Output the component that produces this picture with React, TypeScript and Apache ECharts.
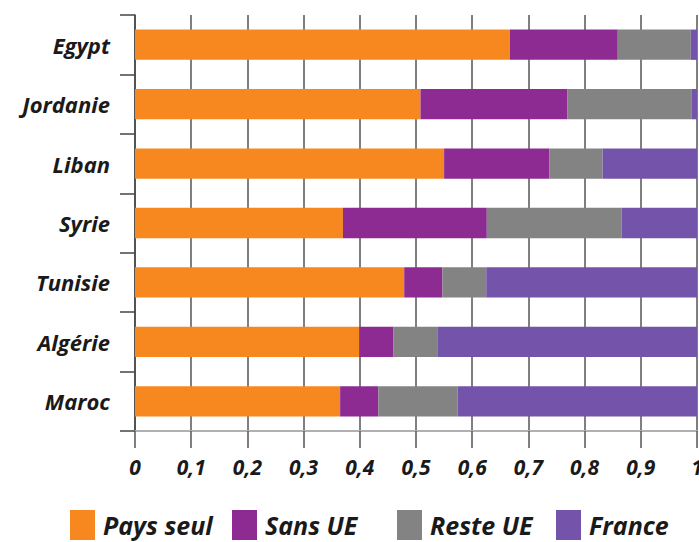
import React, { useEffect, useRef } from "react";
import * as echarts from "echarts";

const categories = ["Egypt", "Jordanie", "Liban", "Syrie", "Tunisie", "Algérie", "Maroc"];
const seriesNames = ["Pays seul", "Sans UE", "Reste UE", "France"];
const paysSeul = [0.667, 0.508, 0.55, 0.37, 0.479, 0.399, 0.365];
const sansUE = [0.192, 0.261, 0.187, 0.256, 0.068, 0.061, 0.068];
const resteUE = [0.13, 0.221, 0.095, 0.24, 0.078, 0.079, 0.141];
const france = [0.011, 0.01, 0.168, 0.134, 0.375, 0.461, 0.426];
const colors = ["#F7881F", "#8D2B93", "#838383", "#7454AA"];
const legendLefts = [70, 232, 397, 556];

export default function App() {
  const ref = useRef<HTMLDivElement>(null);
  useEffect(() => {
    document.body.style.margin = "0";
    const chart = echarts.init(ref.current!, undefined, { renderer: "svg" });
    const values = [paysSeul, sansUE, resteUE, france];
    const legendText = {
      fontFamily: "Open Sans",
      fontStyle: "italic",
      fontWeight: "bold",
      fontSize: 25,
      lineHeight: 25,
      color: "#1a1a1a",
      padding: [0, 0, 0, 3],
    };
    chart.setOption({
      animation: false,
      backgroundColor: "#ffffff",
      grid: { left: 135, right: 2, top: 15, bottom: 111, containLabel: false, outerBoundsMode: "none" },
      legend: seriesNames.map((n, i) => ({
        data: [n],
        left: legendLefts[i],
        top: 510,
        itemWidth: 25,
        itemHeight: 30,
        itemGap: 0,
        padding: 0,
        icon: "rect",
        textStyle: legendText,
        selectedMode: false,
      })),
      xAxis: {
        type: "value",
        min: 0,
        max: 1,
        interval: 0.1,
        axisLine: { show: true, lineStyle: { color: "#b0b0b0", width: 2 } },
        axisTick: { show: true, length: 17, lineStyle: { color: "#555", width: 1.5 } },
        splitLine: { show: true, lineStyle: { color: "#555", width: 1.5 } },
        axisLabel: {
          margin: 25,
          fontFamily: "Open Sans",
          fontStyle: "italic",
          fontWeight: "bold",
          fontSize: 21,
          color: "#1a1a1a",
          formatter: (v: number) => String(Math.round(v * 10) / 10).replace(".", ","),
        },
      },
      yAxis: {
        type: "category",
        data: categories,
        inverse: true,
        axisLine: { show: true, lineStyle: { color: "#444", width: 1.5 } },
        axisTick: { show: true, length: 15, lineStyle: { color: "#444", width: 1.5 } },
        axisLabel: {
          margin: 25,
          fontFamily: "Open Sans",
          fontStyle: "italic",
          fontWeight: "bold",
          fontSize: 22,
          color: "#1a1a1a",
        },
      },
      series: seriesNames.map((n, i) => ({
        name: n,
        type: "bar",
        stack: "total",
        barWidth: "51%",
        data: values[i],
        itemStyle: { color: colors[i] },
      })),
    });
    return () => chart.dispose();
  }, []);
  return <div ref={ref} style={{ width: 699, height: 542 }} />;
}
